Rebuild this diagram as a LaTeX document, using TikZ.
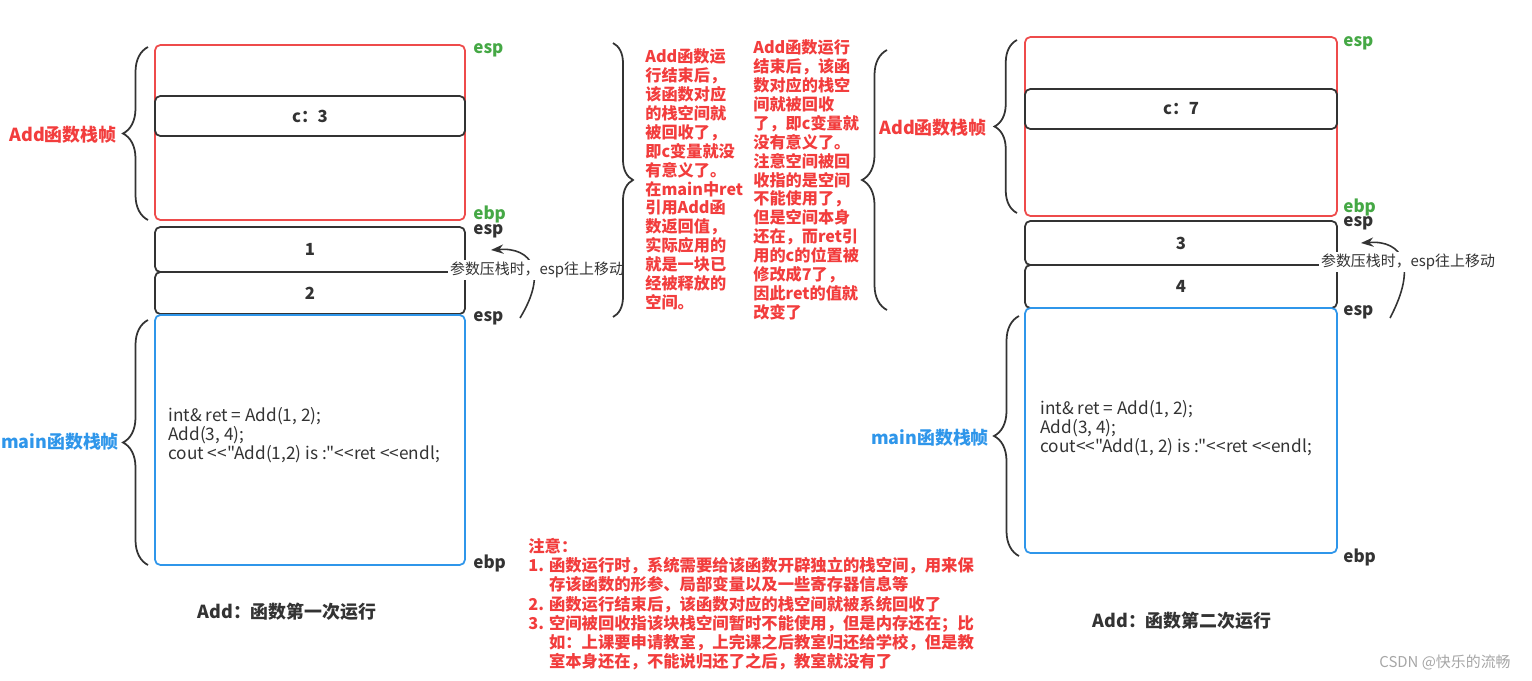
\documentclass[tikz,border=0pt]{standalone}
\usepackage{fontspec}
\setmainfont{Noto Sans CJK SC}
\newfontfamily\codefont[Ligatures=TeXOff]{Noto Sans CJK SC}
\usetikzlibrary{arrows.meta,positioning,decorations.pathreplacing}
\definecolor{framered}{HTML}{EE4B4B}
\definecolor{textred}{HTML}{F23D3D}
\definecolor{mainblue}{HTML}{2F96EA}
\definecolor{regreen}{HTML}{45A845}
\definecolor{boxgray}{HTML}{333333}

\begin{document}
\begin{tikzpicture}[x=0.02cm,y=-0.02cm,>=Stealth]
\tikzstyle{frame}=[draw,line width=1pt,rounded corners=3pt,inner sep=0pt,minimum width=6.2cm]
\tikzstyle{slot}=[frame,draw=boxgray,fill=white,text=boxgray,font=\fontsize{9.5}{11}\selectfont\bfseries]
\tikzstyle{reg}=[anchor=west,inner sep=0pt,text=boxgray,font=\fontsize{9.7}{11}\selectfont\bfseries]
\tikzstyle{side}=[font=\fontsize{10.2}{12}\selectfont\bfseries]
\tikzstyle{code}=[anchor=west,align=left,inner sep=0pt,text=boxgray,font=\codefont\fontsize{9.8}{9.7}\selectfont]
\tikzstyle{memo}=[anchor=north west,align=left,inner sep=0pt,text=textred,font=\fontsize{9.2}{10.8}\selectfont\bfseries]
\tikzstyle{curly}=[draw=boxgray,line width=1pt,decorate,decoration={brace,amplitude=0.5cm}]
\tikzstyle{push}=[fill=white,inner sep=1pt,text=boxgray,font=\fontsize{8.5}{10}\selectfont]
\tikzstyle{caption}=[text=boxgray,font=\fontsize{10.2}{12}\selectfont\bfseries]
\useasboundingbox (0,0) rectangle (1532,680);

% first run
\node[frame,draw=framered,minimum height=3.5cm] (addA) at (310,132.5) {};
\node[slot,minimum height=0.8cm] (cA) at (310,116) {c：3};
\node[slot,minimum height=0.9cm] (argA1) at (310,249.5) {1};
\node[slot,minimum height=0.84cm] (argA2) at (310,293) {2};
\node[frame,draw=mainblue,minimum height=5cm] (mainA) at (310,440) {};
\node[code] (codeA) at (168,435) {int\& ret = Add(1, 2);\\Add(3, 4);\\cout <<"Add(1,2) is :"<<ret <<endl;};
\node[side,text=textred] (addAlbl) at (63,135) {Add函数栈帧};
\node[side,text=mainblue] (mainAlbl) at (60,442) {main函数栈帧};
\draw[curly] (148,220) -- (148,47);
\draw[curly] (148,565) -- (148,320);
\node[reg,text=regreen] (espA0) at (473,50) {esp};
\node[reg,text=regreen] (ebpA0) at (473,214) {ebp};
\node[reg] (espA1) at (473,231) {esp};
\node[reg] (espA2) at (473,318) {esp};
\node[reg] (ebpA1) at (473,563) {ebp};
\coordinate (pushA0) at (520,318);
\coordinate (pushA1) at (491,250);
\draw[->,boxgray,line width=0.9pt] (pushA0) .. controls (548,272) and (532,247) .. (pushA1);
\node[push] (pushAtxt) at (537,270) {参数压栈时，esp往上移动};
\node[caption] (runA) at (287,612) {Add：函数第一次运行};

% notes in the middle
\draw[curly,decoration={brace,amplitude=0.4cm}] (613,43) -- (613,317);
\node[memo] (noteA) at (645,48) {Add函数运\\行结束后，\\该函数对应\\的栈空间就\\被回收了，\\即c变量就没\\有意义了。\\在main中ret\\引用Add函\\数返回值，\\实际应用的\\就是一块已\\经被释放的\\空间。};
\node[memo] (noteB) at (753,39) {Add函数运行\\结束后，该函\\数对应的栈空\\间就被回收\\了，即c变量就\\没有意义了。\\注意空间被回\\收指的是空间\\不能使用了，\\但是空间本身\\还在，而ret引\\用的c的位置被\\修改成7了，\\因此ret的值就\\改变了};
\node[memo,font=\fontsize{9.3}{10.9}\selectfont\bfseries] (tips) at (528,538) {注意：\\1. 函数运行时，系统需要给该函数开辟独立的栈空间，用来保\\\hphantom{1. }存该函数的形参、局部变量以及一些寄存器信息等\\2. 函数运行结束后，该函数对应的栈空间就被系统回收了\\3. 空间被回收指该块栈空间暂时不能使用，但是内存还在；比\\\hphantom{3. }如：上课要申请教室，上完课之后教室归还给学校，但是教\\\hphantom{3. }室本身还在，不能说归还了之后，教室就没有了};

% second run
\draw[curly] (887,310) -- (887,50);
\node[frame,draw=framered,minimum width=6.24cm,minimum height=3.58cm] (addB) at (1181,126.5) {};
\node[slot,minimum width=6.24cm,minimum height=0.8cm] (cB) at (1181,109) {c：7};
\node[slot,minimum width=6.24cm,minimum height=0.88cm] (argB1) at (1181,243) {3};
\node[slot,minimum width=6.24cm,minimum height=0.86cm] (argB2) at (1181,286.5) {4};
\node[frame,draw=mainblue,minimum width=6.24cm,minimum height=4.9cm] (mainB) at (1181,430.5) {};
\node[code] (codeB) at (1040,428) {int\& ret = Add(1, 2);\\Add(3, 4);\\cout<<"Add(1, 2) is :"<<ret <<endl;};
\node[side,text=textred] (addBlbl) at (933,128) {Add函数栈帧};
\node[side,text=mainblue] (mainBlbl) at (930,438) {main函数栈帧};
\draw[curly,decoration={brace,amplitude=0.45cm}] (1017,213) -- (1017,40);
\draw[curly] (1019,556) -- (1019,316);
\node[reg,text=regreen] (espB0) at (1343,43) {esp};
\node[reg,text=regreen] (ebpB0) at (1343,207) {ebp};
\node[reg] (espB1) at (1343,223) {esp};
\node[reg] (espB2) at (1343,312) {esp};
\node[reg] (ebpB1) at (1343,557) {ebp};
\coordinate (pushB0) at (1390,318);
\coordinate (pushB1) at (1361,243);
\draw[->,boxgray,line width=0.9pt] (pushB0) .. controls (1418,265) and (1402,240) .. (pushB1);
\node[push] (pushBtxt) at (1408,262) {参数压栈时，esp往上移动};
\node[caption] (runB) at (1182,621) {Add：函数第二次运行};

\node[text=black!35,font=\fontsize{8.5}{10}\selectfont] (mark) at (1445,662) {CSDN @快乐的流畅};
\end{tikzpicture}
\end{document}
